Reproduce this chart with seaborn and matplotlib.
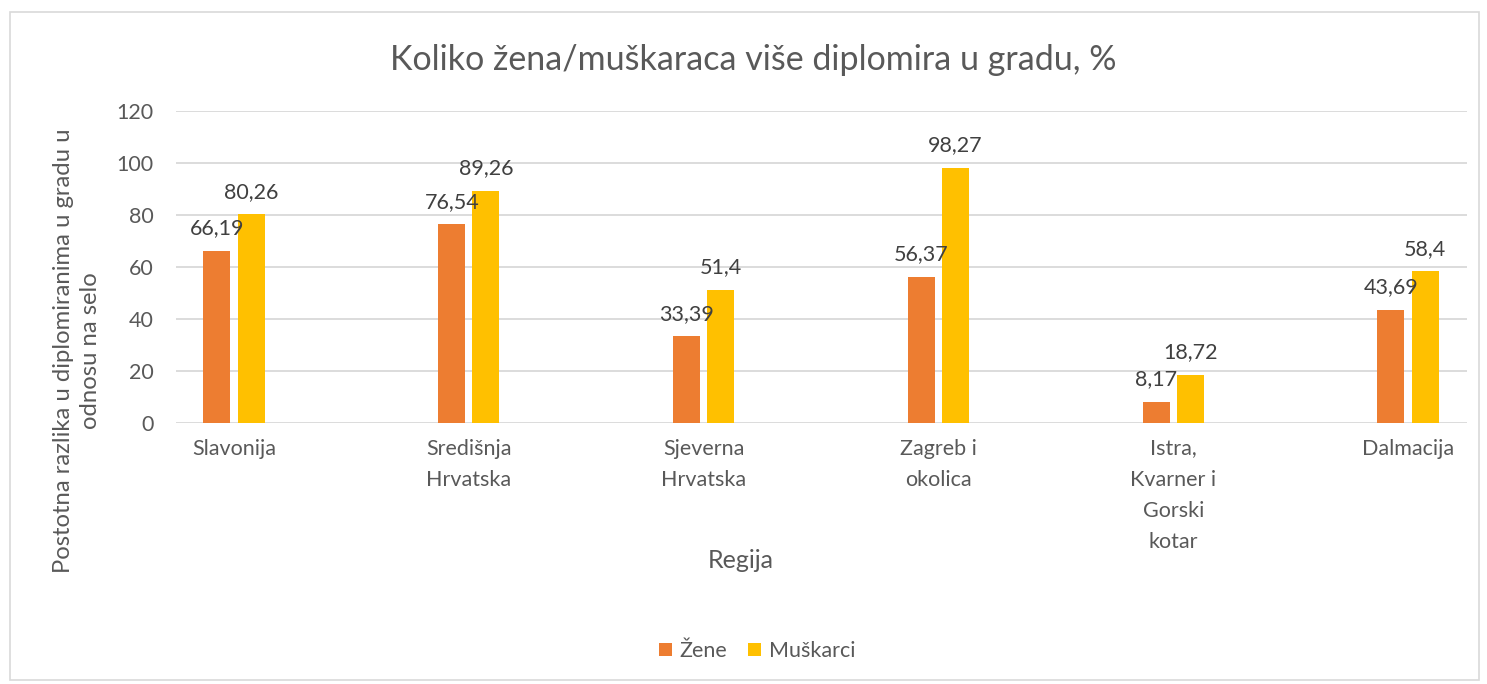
import matplotlib
matplotlib.use("Agg")
import matplotlib.pyplot as plt
import seaborn as sns
import pandas as pd
from matplotlib.patches import Rectangle, Patch

regions = ["Slavonija", "Središnja\nHrvatska", "Sjeverna\nHrvatska", "Zagreb i\nokolica",
           "Istra,\nKvarner i\nGorski\nkotar", "Dalmacija"]
zene = [66.19, 76.54, 33.39, 56.37, 8.17, 43.69]
muskarci = [80.26, 89.26, 51.4, 98.27, 18.72, 58.4]
zene_lbl = ["66,19", "76,54", "33,39", "56,37", "8,17", "43,69"]
musk_lbl = ["80,26", "89,26", "51,4", "98,27", "18,72", "58,4"]
series = ["Žene", "Muškarci"]
colors = ["#ED7D31", "#FFC000"]

df = pd.DataFrame({
    "Regija": regions * 2,
    "val": zene + muskarci,
    "Spol": [series[0]] * 6 + [series[1]] * 6,
})

sns.set_theme(style="white")
FONT = "Lato"
plt.rcParams["font.family"] = [FONT, "DejaVu Sans"]

FS = 15.5
W, H = 1487, 684
fig = plt.figure(figsize=(W / 100, H / 100), dpi=100)
ax = fig.add_axes([176 / W, 1 - 423.3 / H, (1467 - 176) / W, (423.3 - 111) / H])

sns.barplot(data=df, x="Regija", y="val", hue="Spol", order=regions, hue_order=series,
            palette=colors, width=0.29, gap=0.206, ax=ax, legend=False,
            edgecolor="none", linewidth=0, saturation=1)

ax.set_xlim(-58 / 234.8, 5 + 59 / 234.8)
ax.set_ylim(0, 120)
ax.set_yticks(range(0, 121, 20))
ax.yaxis.grid(True, color="#D9D9D9", linewidth=1.3)
ax.set_axisbelow(True)
for s in ["top", "right", "left", "bottom"]:
    ax.spines[s].set_visible(False)
ax.tick_params(axis="both", length=0, labelsize=FS, labelcolor="#595959")
ax.tick_params(axis="y", pad=16)
ax.tick_params(axis="x", pad=11)
ax.set_xlabel("")
ax.set_ylabel("")
for lbl in ax.get_xticklabels():
    lbl.set_linespacing(1.7)
    lbl.set_verticalalignment("top")

for cont, labels in zip(ax.containers, [zene_lbl, musk_lbl]):
    ax.bar_label(cont, labels=labels, padding=9, fontsize=FS, color="#404040")

fig.text(753 / W, 1 - 60 / H, "Koliko žena/muškaraca više diplomira u gradu, %",
         ha="center", va="center", fontsize=24.5, color="#595959")
fig.text(77 / W, 1 - 351 / H, "Postotna razlika u diplomiranima u gradu u\nodnosu na selo",
         rotation=90, ha="center", va="center", fontsize=17.2, color="#595959",
         linespacing=1.35, multialignment="center")
fig.text(741 / W, 1 - 560 / H, "Regija", ha="center", va="center", fontsize=18, color="#595959")

handles = [Patch(facecolor=c, edgecolor="none") for c in colors]
fig.legend(handles, series, loc="center", bbox_to_anchor=(757 / W, 1 - 651 / H), ncol=2,
           frameon=False, fontsize=FS, handlelength=0.6, handleheight=0.6,
           handletextpad=0.35, columnspacing=1.0, labelcolor="#595959")

fig.add_artist(Rectangle((10 / W, 1 - 680 / H), (1479 - 10) / W, (680 - 12) / H,
                         transform=fig.transFigure, fill=False, edgecolor="#D9D9D9",
                         linewidth=1.2))

fig.savefig("out.png", dpi=100)
